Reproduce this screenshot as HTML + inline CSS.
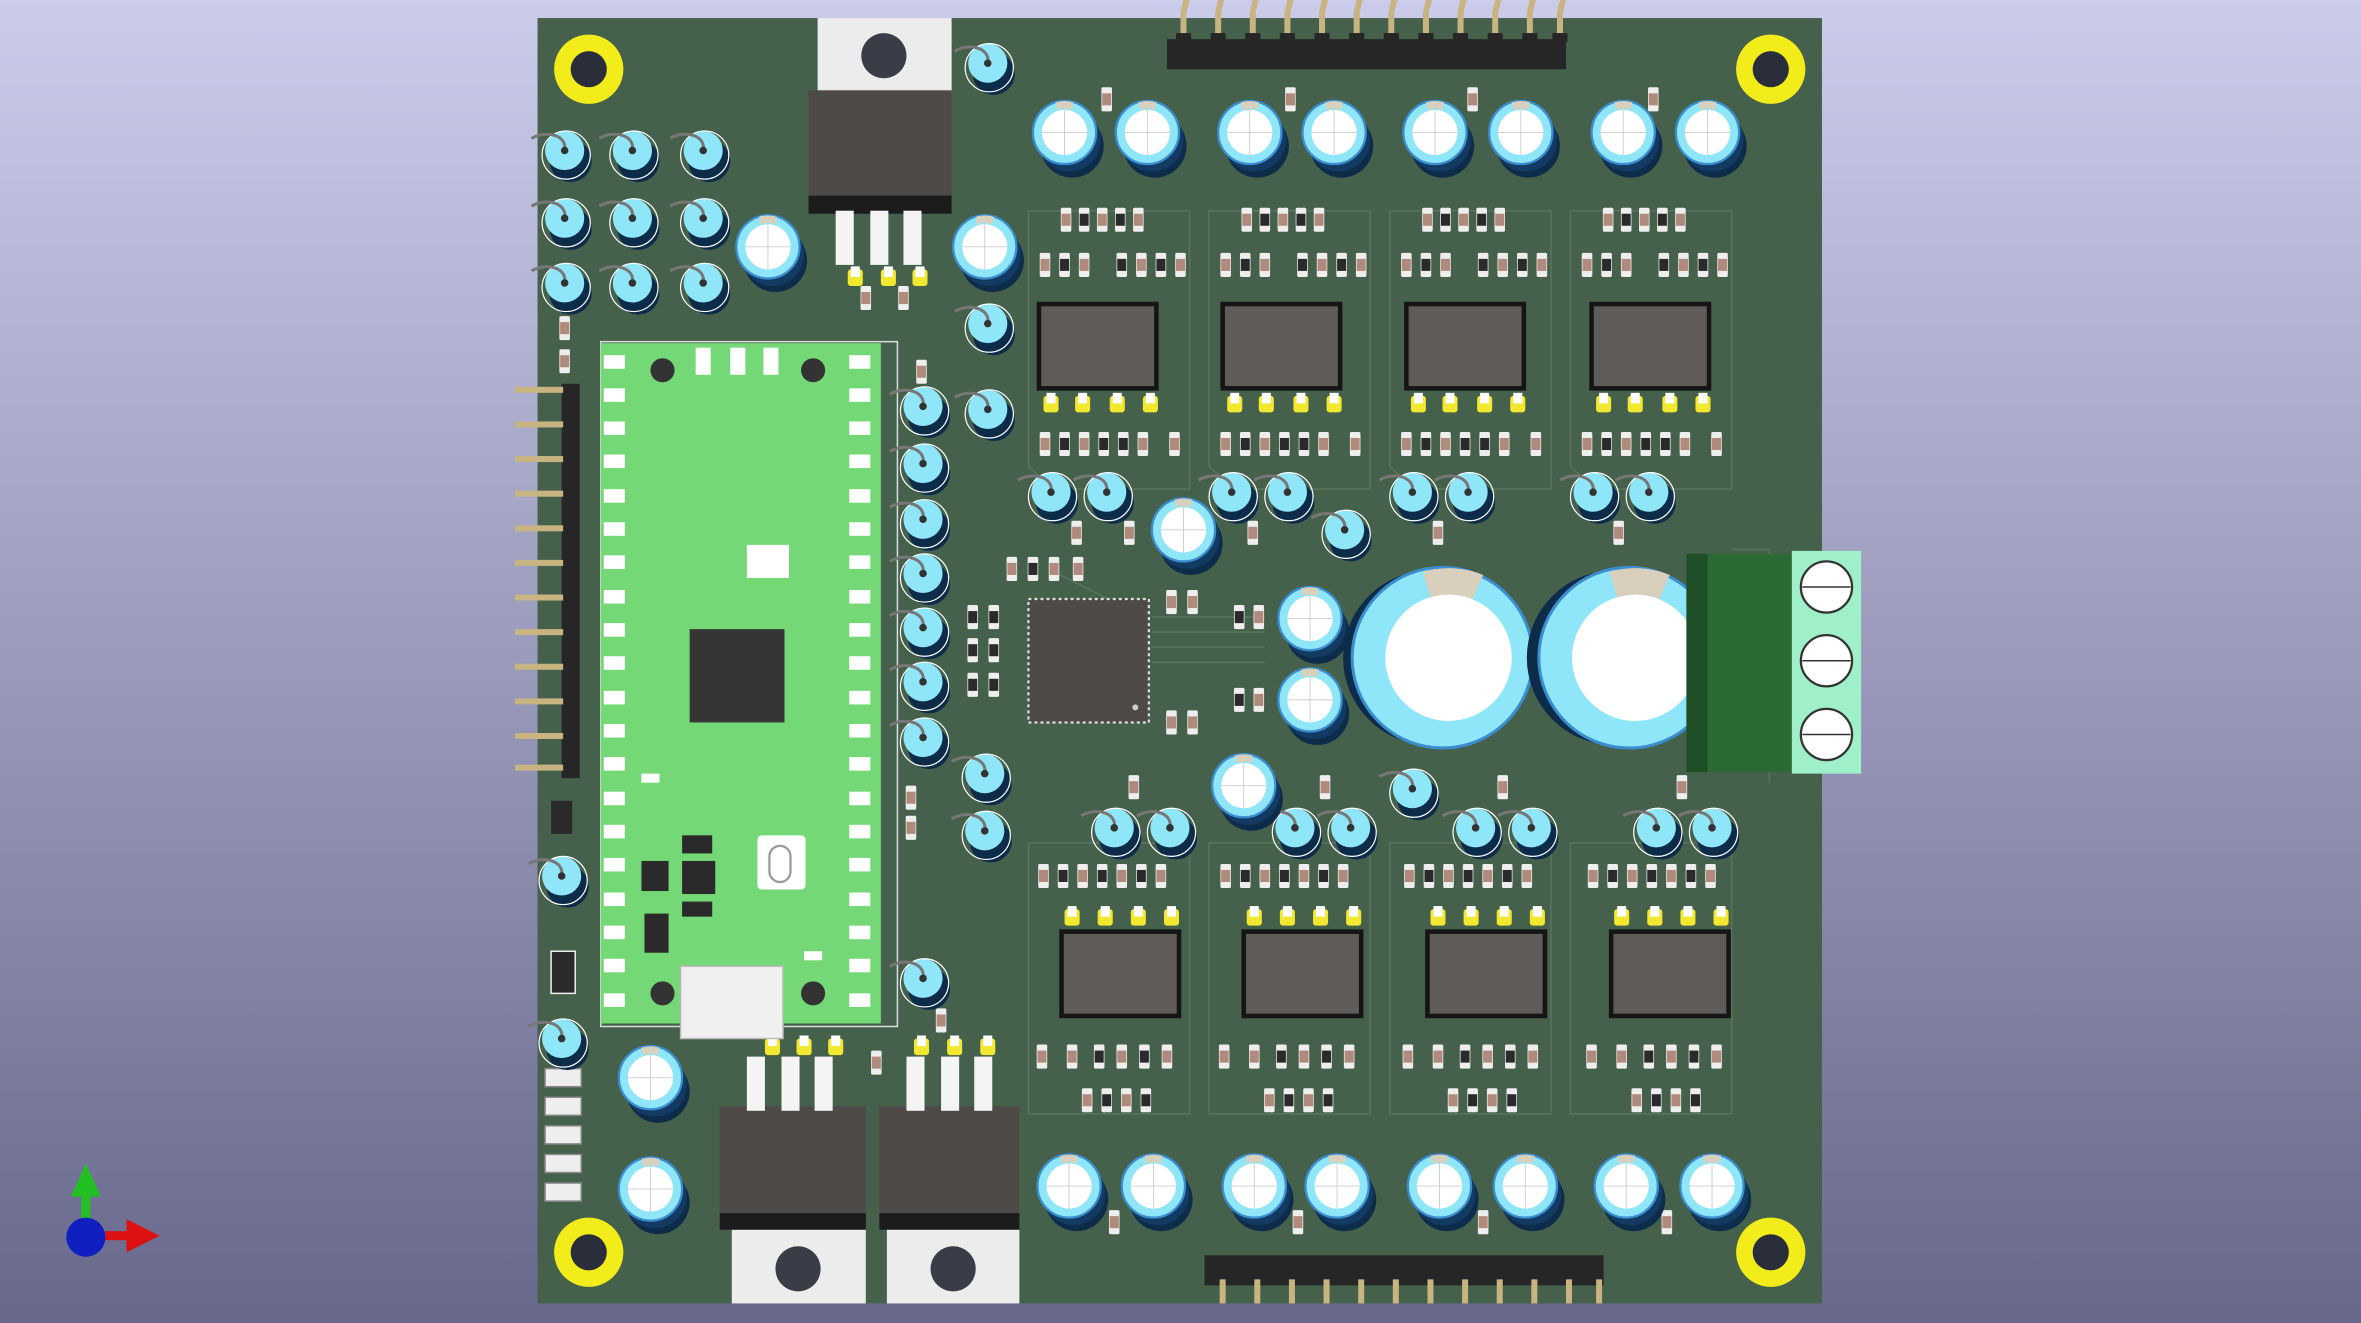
<!DOCTYPE html>
<html><head><meta charset="utf-8"><style>html,body{margin:0;padding:0;overflow:hidden}svg{display:block}</style></head>
<body>
<svg width="2361" height="1323" viewBox="0 0 1568 879" preserveAspectRatio="none" xmlns="http://www.w3.org/2000/svg">
<defs>
<linearGradient id="bg" x1="0" y1="0" x2="0" y2="1"><stop offset="0" stop-color="#cbcbea"/><stop offset="1" stop-color="#68688c"/></linearGradient>
<g id="ecap"><circle cx="5" cy="9" r="21" fill="#0d2c4a"/><circle cx="3" cy="5" r="21" fill="#123a62"/><circle cx="0" cy="0" r="21" fill="#8fe6f8"/><circle cx="0" cy="0" r="21" fill="none" stroke="#3a8ed0" stroke-width="1.5"/><circle r="15" fill="#fff"/><path d="M-6,-20 A21,21 0 0 1 6,-20 L5,-15 A15,15 0 0 0 -5,-15Z" fill="#d8d0bc"/><path d="M-15,0H15M0,-15V15" stroke="#ccc" stroke-width="0.6"/></g>
<g id="pcap"><circle cx="4" cy="7" r="14" fill="#0d2c4a"/><circle r="13" fill="#8fe6f8"/><circle cx="1" cy="3" r="16" fill="none" stroke="#fff" stroke-width="0.8"/><path d="M-22,-8 C-12,-14 2,-10 0,0" fill="none" stroke="#777" stroke-width="2"/><circle r="2.5" fill="#333"/></g>
<g id="res"><rect x="-3.5" y="-8" width="7" height="16" rx="1" fill="#eee"/><rect x="-3" y="-4" width="6" height="8" fill="#b08a7c"/></g>
<g id="resk"><rect x="-3.5" y="-8" width="7" height="16" rx="1" fill="#eee"/><rect x="-3" y="-4" width="6" height="8" fill="#2a2a2a"/></g>
<g id="pad"><rect x="-5" y="-5" width="10" height="11" rx="2" fill="#f2e830"/><rect x="-3" y="-7" width="6" height="7" fill="#fff"/></g>
<g id="pin"><polygon points="-2,-14 2,-14 4,-22 0,-22" fill="#c8b480"/><rect x="-2" y="-14" width="4" height="14" fill="#c8b480"/><rect x="-5" y="0" width="10" height="6" fill="#262626"/></g>
</defs>
<rect width="1568" height="879" fill="url(#bg)"/>
<rect x="357" y="12" width="853" height="854" fill="#45604b"/>
<g stroke="#56725a" stroke-width="1.2" fill="none">
<path d="M683,140 V310 L700,325 H790 V140Z M803,140 V310 L820,325 H910 V140Z M923,140 V310 L940,325 H1030 V140Z M1043,140 V310 L1060,325 H1150 V140Z"/>
<path d="M683,560 V740 H790 V560Z M803,560 V740 H910 V560Z M923,560 V740 H1030 V560Z M1043,560 V740 H1150 V560Z"/>
<path d="M765,410 H840 M765,420 H840 M765,430 H840 M765,440 H840 M700,380 L740,400 M1150,365 H1175 V520"/>
</g>
<g fill="#f2ec1a"><circle cx="391" cy="46" r="23"/><circle cx="1176" cy="46" r="23"/><circle cx="391" cy="832" r="23"/><circle cx="1176" cy="832" r="23"/></g>
<g fill="#2a2e3a"><circle cx="391" cy="46" r="12"/><circle cx="1176" cy="46" r="12"/><circle cx="391" cy="832" r="12"/><circle cx="1176" cy="832" r="12"/></g>
<rect x="775" y="26" width="265" height="20" fill="#262626"/>
<g>
<use href="#pin" x="786" y="22"/><use href="#pin" x="809" y="22"/><use href="#pin" x="832" y="22"/><use href="#pin" x="855" y="22"/><use href="#pin" x="878" y="22"/><use href="#pin" x="901" y="22"/><use href="#pin" x="924" y="22"/><use href="#pin" x="947" y="22"/><use href="#pin" x="970" y="22"/><use href="#pin" x="993" y="22"/><use href="#pin" x="1016" y="22"/><use href="#pin" x="1036" y="22"/>
</g>
<rect x="800" y="834" width="265" height="20" fill="#262626"/>
<g fill="#c8b480"><rect x="810" y="850" width="4" height="16"/><rect x="833" y="850" width="4" height="16"/><rect x="856" y="850" width="4" height="16"/><rect x="879" y="850" width="4" height="16"/><rect x="902" y="850" width="4" height="16"/><rect x="925" y="850" width="4" height="16"/><rect x="948" y="850" width="4" height="16"/><rect x="971" y="850" width="4" height="16"/><rect x="994" y="850" width="4" height="16"/><rect x="1017" y="850" width="4" height="16"/><rect x="1040" y="850" width="4" height="16"/><rect x="1060" y="850" width="4" height="16"/></g>
<rect x="373" y="255" width="12" height="262" fill="#262626"/>
<g fill="#c8b480">
<rect x="342" y="257" width="32" height="4"/><rect x="342" y="280" width="32" height="4"/><rect x="342" y="303" width="32" height="4"/><rect x="342" y="326" width="32" height="4"/><rect x="342" y="349" width="32" height="4"/><rect x="342" y="372" width="32" height="4"/><rect x="342" y="395" width="32" height="4"/><rect x="342" y="418" width="32" height="4"/><rect x="342" y="441" width="32" height="4"/><rect x="342" y="464" width="32" height="4"/><rect x="342" y="487" width="32" height="4"/><rect x="342" y="508" width="32" height="4"/></g>
<rect x="543" y="12" width="89" height="50" fill="#ececec"/><circle cx="587" cy="37" r="15" fill="#3a3c48"/>
<rect x="537" y="60" width="95" height="82" fill="#4d4a48"/><rect x="537" y="130" width="95" height="12" fill="#1c1c1c"/>
<g fill="#f4f4f4"><rect x="555" y="140" width="12" height="36"/><rect x="578" y="140" width="12" height="36"/><rect x="600" y="140" width="12" height="36"/></g>
<use href="#pad" x="568" y="184"/><use href="#pad" x="590" y="184"/><use href="#pad" x="611" y="184"/>
<rect x="486" y="815" width="89" height="51" fill="#ececec"/><circle cx="530" cy="843" r="15" fill="#3a3c48"/>
<rect x="478" y="735" width="97" height="82" fill="#4d4a48"/><rect x="478" y="806" width="97" height="11" fill="#1c1c1c"/>
<g fill="#f4f4f4"><rect x="496" y="702" width="12" height="36"/><rect x="519" y="702" width="12" height="36"/><rect x="541" y="702" width="12" height="36"/></g>
<rect x="589" y="815" width="88" height="51" fill="#ececec"/><circle cx="633" cy="843" r="15" fill="#3a3c48"/>
<rect x="584" y="735" width="93" height="82" fill="#4d4a48"/><rect x="584" y="806" width="93" height="11" fill="#1c1c1c"/>
<g fill="#f4f4f4"><rect x="602" y="702" width="12" height="36"/><rect x="625" y="702" width="12" height="36"/><rect x="647" y="702" width="12" height="36"/></g>
<use href="#pad" x="513" y="695"/><use href="#pad" x="534" y="695"/><use href="#pad" x="555" y="695"/>
<use href="#pad" x="612" y="695"/><use href="#pad" x="634" y="695"/><use href="#pad" x="656" y="695"/>
<rect x="399" y="227" width="197" height="455" fill="none" stroke="#ddd" stroke-width="1"/>
<rect x="399" y="228" width="186" height="452" fill="#74d876"/>
<g fill="#fff">
<rect x="401" y="236" width="14" height="9"/><rect x="401" y="258" width="14" height="9"/><rect x="401" y="280" width="14" height="9"/><rect x="401" y="302" width="14" height="9"/><rect x="401" y="325" width="14" height="9"/><rect x="401" y="347" width="14" height="9"/><rect x="401" y="369" width="14" height="9"/><rect x="401" y="392" width="14" height="9"/><rect x="401" y="414" width="14" height="9"/><rect x="401" y="436" width="14" height="9"/><rect x="401" y="459" width="14" height="9"/><rect x="401" y="481" width="14" height="9"/><rect x="401" y="503" width="14" height="9"/><rect x="401" y="526" width="14" height="9"/><rect x="401" y="548" width="14" height="9"/><rect x="401" y="570" width="14" height="9"/><rect x="401" y="593" width="14" height="9"/><rect x="401" y="615" width="14" height="9"/><rect x="401" y="637" width="14" height="9"/><rect x="401" y="660" width="14" height="9"/>
<rect x="564" y="236" width="14" height="9"/><rect x="564" y="258" width="14" height="9"/><rect x="564" y="280" width="14" height="9"/><rect x="564" y="302" width="14" height="9"/><rect x="564" y="325" width="14" height="9"/><rect x="564" y="347" width="14" height="9"/><rect x="564" y="369" width="14" height="9"/><rect x="564" y="392" width="14" height="9"/><rect x="564" y="414" width="14" height="9"/><rect x="564" y="436" width="14" height="9"/><rect x="564" y="459" width="14" height="9"/><rect x="564" y="481" width="14" height="9"/><rect x="564" y="503" width="14" height="9"/><rect x="564" y="526" width="14" height="9"/><rect x="564" y="548" width="14" height="9"/><rect x="564" y="570" width="14" height="9"/><rect x="564" y="593" width="14" height="9"/><rect x="564" y="615" width="14" height="9"/><rect x="564" y="637" width="14" height="9"/><rect x="564" y="660" width="14" height="9"/>
<rect x="462" y="231" width="10" height="18"/><rect x="485" y="231" width="10" height="18"/><rect x="507" y="231" width="10" height="18"/>
<rect x="496" y="362" width="28" height="22"/><rect x="503" y="555" width="32" height="36" rx="3"/><rect x="426" y="514" width="12" height="6"/><rect x="534" y="632" width="12" height="6"/>
</g>
<g fill="#333"><circle cx="440" cy="246" r="8"/><circle cx="540" cy="246" r="8"/><circle cx="440" cy="660" r="8"/><circle cx="540" cy="660" r="8"/></g>
<rect x="458" y="418" width="63" height="62" fill="#353535"/>
<rect x="511" y="562" width="14" height="24" rx="7" fill="none" stroke="#999" stroke-width="1.5"/>
<g fill="#2a2a2a"><rect x="453" y="555" width="20" height="12"/><rect x="426" y="572" width="18" height="20"/><rect x="453" y="572" width="22" height="22"/><rect x="453" y="599" width="20" height="10"/><rect x="428" y="607" width="16" height="26"/></g>
<rect x="452" y="642" width="68" height="48" fill="#f0f0f0" stroke="#bbb"/>
<rect x="683" y="398" width="80" height="82" fill="#4d4a48" stroke="#ddd" stroke-width="1.5" stroke-dasharray="2,2"/>
<circle cx="754" cy="470" r="2" fill="#ccc"/>
<g fill="#5f5b58" stroke="#151515" stroke-width="3"><rect x="690" y="202" width="78" height="56"/><rect x="812" y="202" width="78" height="56"/><rect x="934" y="202" width="78" height="56"/><rect x="1057" y="202" width="78" height="56"/></g>
<g fill="#5f5b58" stroke="#151515" stroke-width="3"><rect x="705" y="619" width="78" height="56"/><rect x="826" y="619" width="78" height="56"/><rect x="948" y="619" width="78" height="56"/><rect x="1070" y="619" width="78" height="56"/></g>
<g>
<use href="#pad" x="698" y="268"/><use href="#pad" x="719" y="268"/><use href="#pad" x="742" y="268"/><use href="#pad" x="764" y="268"/>
<use href="#pad" x="820" y="268"/><use href="#pad" x="841" y="268"/><use href="#pad" x="864" y="268"/><use href="#pad" x="886" y="268"/>
<use href="#pad" x="942" y="268"/><use href="#pad" x="963" y="268"/><use href="#pad" x="986" y="268"/><use href="#pad" x="1008" y="268"/>
<use href="#pad" x="1065" y="268"/><use href="#pad" x="1086" y="268"/><use href="#pad" x="1109" y="268"/><use href="#pad" x="1131" y="268"/>
<use href="#pad" x="712" y="609"/><use href="#pad" x="734" y="609"/><use href="#pad" x="756" y="609"/><use href="#pad" x="778" y="609"/>
<use href="#pad" x="833" y="609"/><use href="#pad" x="855" y="609"/><use href="#pad" x="877" y="609"/><use href="#pad" x="899" y="609"/>
<use href="#pad" x="955" y="609"/><use href="#pad" x="977" y="609"/><use href="#pad" x="999" y="609"/><use href="#pad" x="1021" y="609"/>
<use href="#pad" x="1077" y="609"/><use href="#pad" x="1099" y="609"/><use href="#pad" x="1121" y="609"/><use href="#pad" x="1143" y="609"/>
</g>
<g id="rowA">
<use href="#res" x="708" y="146"/><use href="#resk" x="720" y="146"/><use href="#res" x="732" y="146"/><use href="#resk" x="744" y="146"/><use href="#res" x="756" y="146"/>
<use href="#res" x="694" y="176"/><use href="#resk" x="707" y="176"/><use href="#res" x="720" y="176"/><use href="#resk" x="745" y="176"/><use href="#res" x="758" y="176"/><use href="#resk" x="771" y="176"/><use href="#res" x="784" y="176"/>
<use href="#res" x="694" y="295"/><use href="#resk" x="707" y="295"/><use href="#res" x="720" y="295"/><use href="#resk" x="733" y="295"/><use href="#resk" x="746" y="295"/><use href="#res" x="759" y="295"/><use href="#res" x="780" y="295"/>
</g>
<use href="#rowA" x="120"/><use href="#rowA" x="240"/><use href="#rowA" x="360"/>
<g id="rowB">
<use href="#res" x="693" y="582"/><use href="#resk" x="706" y="582"/><use href="#res" x="719" y="582"/><use href="#resk" x="732" y="582"/><use href="#res" x="745" y="582"/><use href="#resk" x="758" y="582"/><use href="#res" x="771" y="582"/>
<use href="#res" x="692" y="702"/><use href="#res" x="712" y="702"/><use href="#resk" x="730" y="702"/><use href="#res" x="745" y="702"/><use href="#resk" x="760" y="702"/><use href="#res" x="775" y="702"/>
<use href="#res" x="722" y="731"/><use href="#resk" x="735" y="731"/><use href="#res" x="748" y="731"/><use href="#resk" x="761" y="731"/>
</g>
<use href="#rowB" x="121"/><use href="#rowB" x="243"/><use href="#rowB" x="365"/>
<g>
<use href="#res" x="672" y="378"/><use href="#resk" x="686" y="378"/><use href="#res" x="700" y="378"/><use href="#res" x="716" y="378"/>
<use href="#resk" x="646" y="410"/><use href="#resk" x="660" y="410"/><use href="#resk" x="646" y="432"/><use href="#resk" x="660" y="432"/><use href="#resk" x="646" y="455"/><use href="#resk" x="660" y="455"/>
<use href="#res" x="778" y="400"/><use href="#res" x="792" y="400"/><use href="#resk" x="823" y="410"/><use href="#res" x="836" y="410"/>
<use href="#resk" x="823" y="465"/><use href="#res" x="836" y="465"/><use href="#res" x="778" y="480"/><use href="#res" x="792" y="480"/>
<use href="#res" x="375" y="218"/><use href="#res" x="375" y="240"/><use href="#res" x="575" y="198"/><use href="#res" x="600" y="198"/>
<use href="#res" x="612" y="247"/><use href="#res" x="605" y="530"/><use href="#res" x="605" y="550"/><use href="#res" x="625" y="678"/><use href="#res" x="582" y="706"/>
<use href="#res" x="735" y="66"/><use href="#res" x="857" y="66"/><use href="#res" x="978" y="66"/><use href="#res" x="1098" y="66"/>
<use href="#res" x="740" y="812"/><use href="#res" x="862" y="812"/><use href="#res" x="985" y="812"/><use href="#res" x="1107" y="812"/>
<use href="#res" x="753" y="523"/><use href="#res" x="880" y="523"/><use href="#res" x="998" y="523"/><use href="#res" x="1117" y="523"/>
<use href="#res" x="715" y="354"/><use href="#res" x="750" y="354"/><use href="#res" x="832" y="354"/><use href="#res" x="955" y="354"/><use href="#res" x="1075" y="354"/>
</g>
<rect x="366" y="532" width="14" height="22" fill="#2a2a2a"/><rect x="366" y="632" width="16" height="28" fill="#2a2a2a" stroke="#eee"/>
<g fill="#eee" stroke="#888"><rect x="362" y="710" width="24" height="12"/><rect x="362" y="729" width="24" height="12"/><rect x="362" y="748" width="24" height="12"/><rect x="362" y="767" width="24" height="12"/><rect x="362" y="786" width="24" height="12"/></g>
<g>
<use href="#pcap" x="375" y="100"/><use href="#pcap" x="420" y="100"/><use href="#pcap" x="467" y="100"/>
<use href="#pcap" x="375" y="145"/><use href="#pcap" x="420" y="145"/><use href="#pcap" x="467" y="145"/>
<use href="#pcap" x="375" y="188"/><use href="#pcap" x="420" y="188"/><use href="#pcap" x="467" y="188"/>
<use href="#pcap" x="613" y="270"/><use href="#pcap" x="613" y="308"/><use href="#pcap" x="613" y="345"/><use href="#pcap" x="613" y="381"/><use href="#pcap" x="613" y="417"/><use href="#pcap" x="613" y="453"/><use href="#pcap" x="613" y="490"/>
<use href="#pcap" x="656" y="42"/><use href="#pcap" x="656" y="215"/><use href="#pcap" x="656" y="272"/><use href="#pcap" x="654" y="514"/><use href="#pcap" x="654" y="552"/><use href="#pcap" x="613" y="650"/>
<use href="#pcap" x="373" y="582"/><use href="#pcap" x="373" y="690"/><use href="#pcap" x="893" y="352"/><use href="#pcap" x="938" y="524"/>
<use href="#pcap" x="698" y="327"/><use href="#pcap" x="735" y="327"/><use href="#pcap" x="818" y="327"/><use href="#pcap" x="855" y="327"/><use href="#pcap" x="938" y="327"/><use href="#pcap" x="975" y="327"/><use href="#pcap" x="1058" y="327"/><use href="#pcap" x="1095" y="327"/>
<use href="#pcap" x="740" y="550"/><use href="#pcap" x="777" y="550"/><use href="#pcap" x="860" y="550"/><use href="#pcap" x="897" y="550"/><use href="#pcap" x="980" y="550"/><use href="#pcap" x="1017" y="550"/><use href="#pcap" x="1100" y="550"/><use href="#pcap" x="1137" y="550"/>
</g>
<g>
<use href="#ecap" x="707" y="88"/><use href="#ecap" x="762" y="88"/><use href="#ecap" x="830" y="88"/><use href="#ecap" x="886" y="88"/><use href="#ecap" x="953" y="88"/><use href="#ecap" x="1010" y="88"/><use href="#ecap" x="1078" y="88"/><use href="#ecap" x="1134" y="88"/>
<use href="#ecap" x="710" y="788"/><use href="#ecap" x="766" y="788"/><use href="#ecap" x="833" y="788"/><use href="#ecap" x="888" y="788"/><use href="#ecap" x="956" y="788"/><use href="#ecap" x="1013" y="788"/><use href="#ecap" x="1080" y="788"/><use href="#ecap" x="1137" y="788"/>
<use href="#ecap" x="510" y="164"/><use href="#ecap" x="654" y="164"/><use href="#ecap" x="786" y="352"/><use href="#ecap" x="870" y="411"/><use href="#ecap" x="870" y="465"/><use href="#ecap" x="826" y="522"/><use href="#ecap" x="432" y="716"/><use href="#ecap" x="432" y="790"/>
</g>
<g>
<circle cx="950" cy="437" r="58" fill="#0d2c4a"/><circle cx="958" cy="437" r="60" fill="#8fe6f8" stroke="#3a8ed0" stroke-width="2"/><circle cx="962" cy="437" r="42" fill="#fff"/><path d="M945,380 A60,60 0 0 1 985,382 L978,398 A42,42 0 0 0 950,397Z" fill="#d8d0bc"/>
<circle cx="1072" cy="437" r="58" fill="#0d2c4a"/><circle cx="1082" cy="437" r="60" fill="#8fe6f8" stroke="#3a8ed0" stroke-width="2"/><circle cx="1086" cy="437" r="42" fill="#fff"/><path d="M1069,380 A60,60 0 0 1 1109,382 L1102,398 A42,42 0 0 0 1074,397Z" fill="#d8d0bc"/>
</g>
<rect x="1120" y="368" width="72" height="145" fill="#2c6a35"/><rect x="1120" y="368" width="14" height="145" fill="#1f4f27"/>
<rect x="1190" y="366" width="46" height="148" fill="#9ff0c8"/>
<g fill="#fff" stroke="#333" stroke-width="1.5"><circle cx="1213" cy="390" r="17"/><circle cx="1213" cy="439" r="17"/><circle cx="1213" cy="488" r="17"/></g>
<g stroke="#333"><path d="M1197,390H1229M1197,439H1229M1197,488H1229"/></g>
<rect x="54" y="790" width="6" height="30" fill="#22c022"/><polygon points="47,795 57,773 67,795" fill="#22c022"/>
<rect x="57" y="818" width="30" height="6" fill="#dd1111"/><polygon points="84,810 106,821 84,832" fill="#dd1111"/>
<circle cx="57" cy="822" r="13" fill="#1020c0"/>
</svg>
</body></html>
